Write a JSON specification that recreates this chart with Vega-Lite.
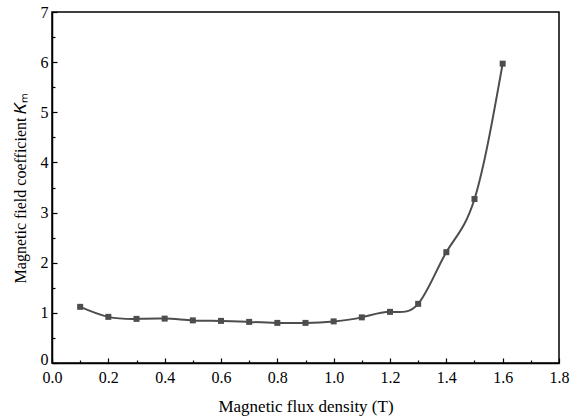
{
  "$schema": "https://vega.github.io/schema/vega-lite/v6.json",
  "width": 507,
  "height": 351,
  "autosize": {"type": "none"},
  "padding": {"left": 52, "top": 12, "right": 18, "bottom": 56},
  "background": "white",
  "config": {
    "view": {"stroke": "black", "strokeWidth": 1.5},
    "font": "Liberation Serif",
    "axis": {
      "labelFont": "Liberation Serif",
      "titleFont": "Liberation Serif",
      "labelFontSize": 16,
      "titleFontSize": 16,
      "labelColor": "black",
      "titleColor": "black",
      "titleFontWeight": "normal",
      "domainColor": "black",
      "domainWidth": 1.5,
      "tickColor": "black",
      "tickWidth": 1.2,
      "grid": false
    }
  },
  "data": {
    "values": [
      {"B": 0.1, "K": 1.12},
      {"B": 0.2, "K": 0.92},
      {"B": 0.3, "K": 0.88},
      {"B": 0.4, "K": 0.885},
      {"B": 0.5, "K": 0.85},
      {"B": 0.6, "K": 0.84},
      {"B": 0.7, "K": 0.82},
      {"B": 0.8, "K": 0.80},
      {"B": 0.9, "K": 0.80},
      {"B": 1.0, "K": 0.83},
      {"B": 1.1, "K": 0.91},
      {"B": 1.2, "K": 1.02},
      {"B": 1.3, "K": 1.18},
      {"B": 1.4, "K": 2.21},
      {"B": 1.5, "K": 3.27},
      {"B": 1.6, "K": 5.97}
    ]
  },
  "encoding": {
    "x": {
      "field": "B",
      "type": "quantitative",
      "scale": {"domain": [0, 1.8], "nice": false, "zero": false},
      "axis": {
        "title": "Magnetic flux density (T)",
        "titleFontSize": 17,
        "values": [0, 0.1, 0.2, 0.3, 0.4, 0.5, 0.6, 0.7, 0.8, 0.9, 1.0, 1.1, 1.2, 1.3, 1.4, 1.5, 1.6, 1.7, 1.8],
        "labelExpr": "abs(datum.value*5-round(datum.value*5))<1e-6 ? format(datum.value,'.1f') : ''",
        "tickSize": {"condition": {"test": "abs(datum.value*5-round(datum.value*5))<1e-6", "value": -5}, "value": -3},
        "labelPadding": 11,
        "titlePadding": 11,
        "labelFlush": false,
        "labelOverlap": false
      }
    },
    "y": {
      "field": "K",
      "type": "quantitative",
      "scale": {"domain": [0, 7], "nice": false, "zero": true},
      "axis": {
        "title": "Magnetic field coefficient 𝐾ₘ",
        "values": [0, 0.5, 1, 1.5, 2, 2.5, 3, 3.5, 4, 4.5, 5, 5.5, 6, 6.5, 7],
        "labelExpr": "datum.value % 1 == 0 ? format(datum.value,'d') : ''",
        "tickSize": {"condition": {"test": "datum.value % 1 == 0", "value": -5}, "value": -3},
        "labelOffset": {"condition": {"test": "datum.value == 0", "value": -4}, "value": 0},
        "labelPadding": 9,
        "titlePadding": 12,
        "labelFlush": false,
        "labelOverlap": false
      }
    }
  },
  "layer": [
    {
      "mark": {"type": "line", "interpolate": "natural", "color": "#4d4d4d", "strokeWidth": 2}
    },
    {
      "mark": {"type": "square", "color": "#4d4d4d", "opacity": 1, "size": 36, "filled": true}
    }
  ]
}
